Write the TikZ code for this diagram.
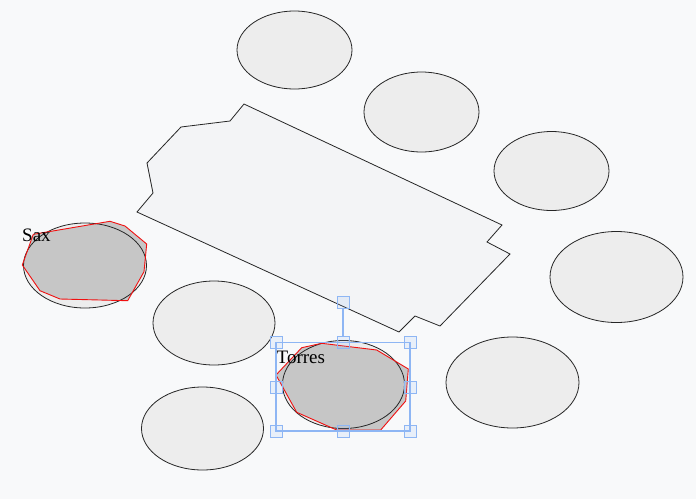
\documentclass[tikz,border=0pt]{standalone}
\usepackage{fontspec}
\setmainfont{Liberation Serif}
\usetikzlibrary{shapes.geometric}
\definecolor{bgc}{HTML}{F8F9FA}
\definecolor{tablec}{HTML}{F3F4F6}
\definecolor{seatc}{HTML}{EDEDED}
\definecolor{selc}{HTML}{C6C6C6}
\definecolor{redc}{HTML}{F01010}
\definecolor{bluec}{HTML}{8EB6F4}
\tikzset{
  seat/.style={ellipse, draw=black!85, line width=0.8pt, fill=seatc, inner sep=0pt},
  seatsel/.style={ellipse, draw=black!85, line width=0.8pt, inner sep=0pt},
  tablestyle/.style={draw=black!85, line width=0.8pt, fill=tablec},
  hull/.style={draw=redc, line width=0.9pt},
  hullfill/.style={fill=selc},
  label/.style={font=\fontsize{19}{19}\selectfont, inner sep=0pt, anchor=base west},
  selbox/.style={draw=bluec, line width=1.2pt},
  handle/.style={draw=bluec, line width=1pt, fill=bluec, fill opacity=0.15, minimum size=12pt, inner sep=0pt, rectangle}
}
\begin{document}
\begin{tikzpicture}[x=1pt,y=-1pt]
\fill[bgc] (0,0) rectangle (696,499);
\useasboundingbox (0,0) rectangle (696,499);
% table
\draw[tablestyle] (244,104) -- (230,121) -- (181,127) -- (147,163) -- (153,193) -- (137,212) -- (399,332) -- (415,316) -- (440,326) -- (510,254) -- (487,242) -- (502,225) -- cycle;
% seats
\node[seat, minimum width=115pt, minimum height=78pt] (s1) at (294.5,50) {};
\node[seat, minimum width=115pt, minimum height=80pt] (s2) at (421.5,112) {};
\node[seat, minimum width=115pt, minimum height=79pt] (s3) at (551.5,171) {};
\node[seat, minimum width=133pt, minimum height=91pt] (s4) at (616.5,277) {};
\node[seat, minimum width=133pt, minimum height=91pt] (s5) at (512.5,382.5) {};
\node[seat, minimum width=122pt, minimum height=83pt] (s7) at (202.5,428.5) {};
\node[seat, minimum width=122pt, minimum height=84pt] (s8) at (214,323) {};
% Sax seat
\fill[seatc] (85,265.5) ellipse [x radius=61.5, y radius=42.5];
\fill[hullfill] (22.3,265) -- (33.3,234.3) -- (110,221.3) -- (125,226) -- (146.7,244) -- (144,271.7) -- (127.7,300.7) -- (60,299) -- (40,290.7) -- cycle;
\node[seatsel, minimum width=123pt, minimum height=85pt] (s9) at (85,265.5) {};
\draw[hull] (22.3,265) -- (33.3,234.3) -- (110,221.3) -- (125,226) -- (146.7,244) -- (144,271.7) -- (127.7,300.7) -- (60,299) -- (40,290.7) -- cycle;
% Torres seat
\fill[seatc] (343.5,384.5) ellipse [x radius=61, y radius=44];
\fill[hullfill] (276,375) -- (301.7,347.7) -- (321.7,343.3) -- (376.7,350) -- (408.3,369) -- (405.7,401) -- (380.7,430) -- (336.7,430) -- (296.7,412.3) -- cycle;
\node[seatsel, minimum width=122pt, minimum height=88pt] (s6) at (343.5,384.5) {};
\draw[hull] (276,375) -- (301.7,347.7) -- (321.7,343.3) -- (376.7,350) -- (408.3,369) -- (405.7,401) -- (380.7,430) -- (336.7,430) -- (296.7,412.3) -- cycle;
% labels
\node[label] (sax) at (22,241.7) {Sax};
\node[label] (torres) at (276.5,363.3) {Torres};
% selection box
\draw[selbox] (276,342.5) rectangle (410,431);
\node[handle] (htl) at (276,342.5) {};
\node[handle] (htm) at (343,342.5) {};
\node[handle] (htr) at (410,342.5) {};
\node[handle] (hml) at (276,387) {};
\node[handle] (hmr) at (410,387) {};
\node[handle] (hbl) at (276,431) {};
\node[handle] (hbm) at (343,431) {};
\node[handle] (hbr) at (410,431) {};
\node[handle] (hrot) at (343,302.5) {};
\draw[selbox] (hrot) -- (htm);
\end{tikzpicture}
\end{document}
